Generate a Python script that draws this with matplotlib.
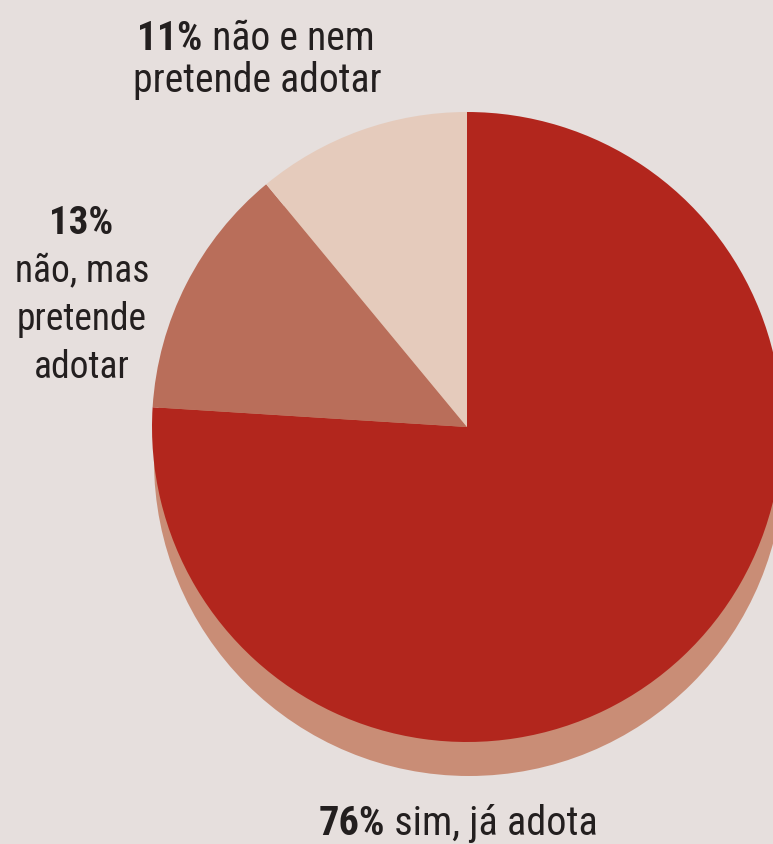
import matplotlib
matplotlib.use("Agg")
import matplotlib.pyplot as plt
from matplotlib.patches import Circle

# survey shares, clockwise from 12 o'clock
labels = ["sim, já adota", "não, mas pretende adotar", "não e nem pretende adotar"]
shares = [76, 13, 11]
colors = ["#b2261d", "#b96e5a", "#e5cbbc"]

W, H = 773, 845
fig = plt.figure(figsize=(W / 100, H / 100), dpi=100)
fig.patch.set_facecolor("#e6dfdd")
ax = fig.add_axes([0, 0, 1, 1])
ax.set_facecolor("#e6dfdd")

cx, cy, r = 467, H - 428, 315

# depth band under the disc
ax.add_patch(Circle((cx + 2, cy - 34), r, facecolor="#c98d76", edgecolor="none", zorder=1))

wedges, _ = ax.pie(shares, colors=colors, startangle=90, counterclock=False,
                   center=(cx, cy), radius=r, frame=True,
                   wedgeprops=dict(linewidth=0))
for w in wedges:
    w.set_zorder(2)

ax.set_xlim(0, W)
ax.set_ylim(0, H)
ax.set_aspect("equal")
ax.axis("off")

fam = ["Roboto Condensed", "DejaVu Sans"]
fs = 29
ink = "#231f1f"
renderer = fig.canvas.get_renderer()


def mixed_line(xc, y, bold, rest, size=fs):
    """Draw a bold lead-in followed by regular text, centred on xc."""
    tb = ax.text(0, y, bold, fontsize=size, fontweight="bold", family=fam, stretch="condensed",
                 color=ink, va="baseline")
    tr = ax.text(0, y, rest, fontsize=size, family=fam, stretch="condensed", color=ink, va="baseline")
    wb = tb.get_window_extent(renderer).width
    wr = tr.get_window_extent(renderer).width
    x0 = xc - (wb + wr) / 2
    tb.set_x(x0)
    tr.set_x(x0 + wb)


def plain(xc, y, s, weight="normal", size=fs):
    ax.text(xc, y, s, fontsize=size, fontweight=weight, family=fam, stretch="condensed",
            color=ink, ha="center", va="baseline")


# 11% label
mixed_line(256, H - 50, "11%", " " + "não e nem", size=28.5)
plain(257, H - 92, "pretende adotar", size=28.5)

# 13% label
plain(81, H - 234, "13%", weight="bold", size=28)
plain(82, H - 282, "não, mas", size=27)
plain(82, H - 330, "pretende", size=27)
plain(82, H - 378, "adotar", size=27)

# 76% label
mixed_line(458, H - 835, "76%", " " + labels[0])

fig.savefig("out.png", dpi=100, facecolor=fig.get_facecolor())
